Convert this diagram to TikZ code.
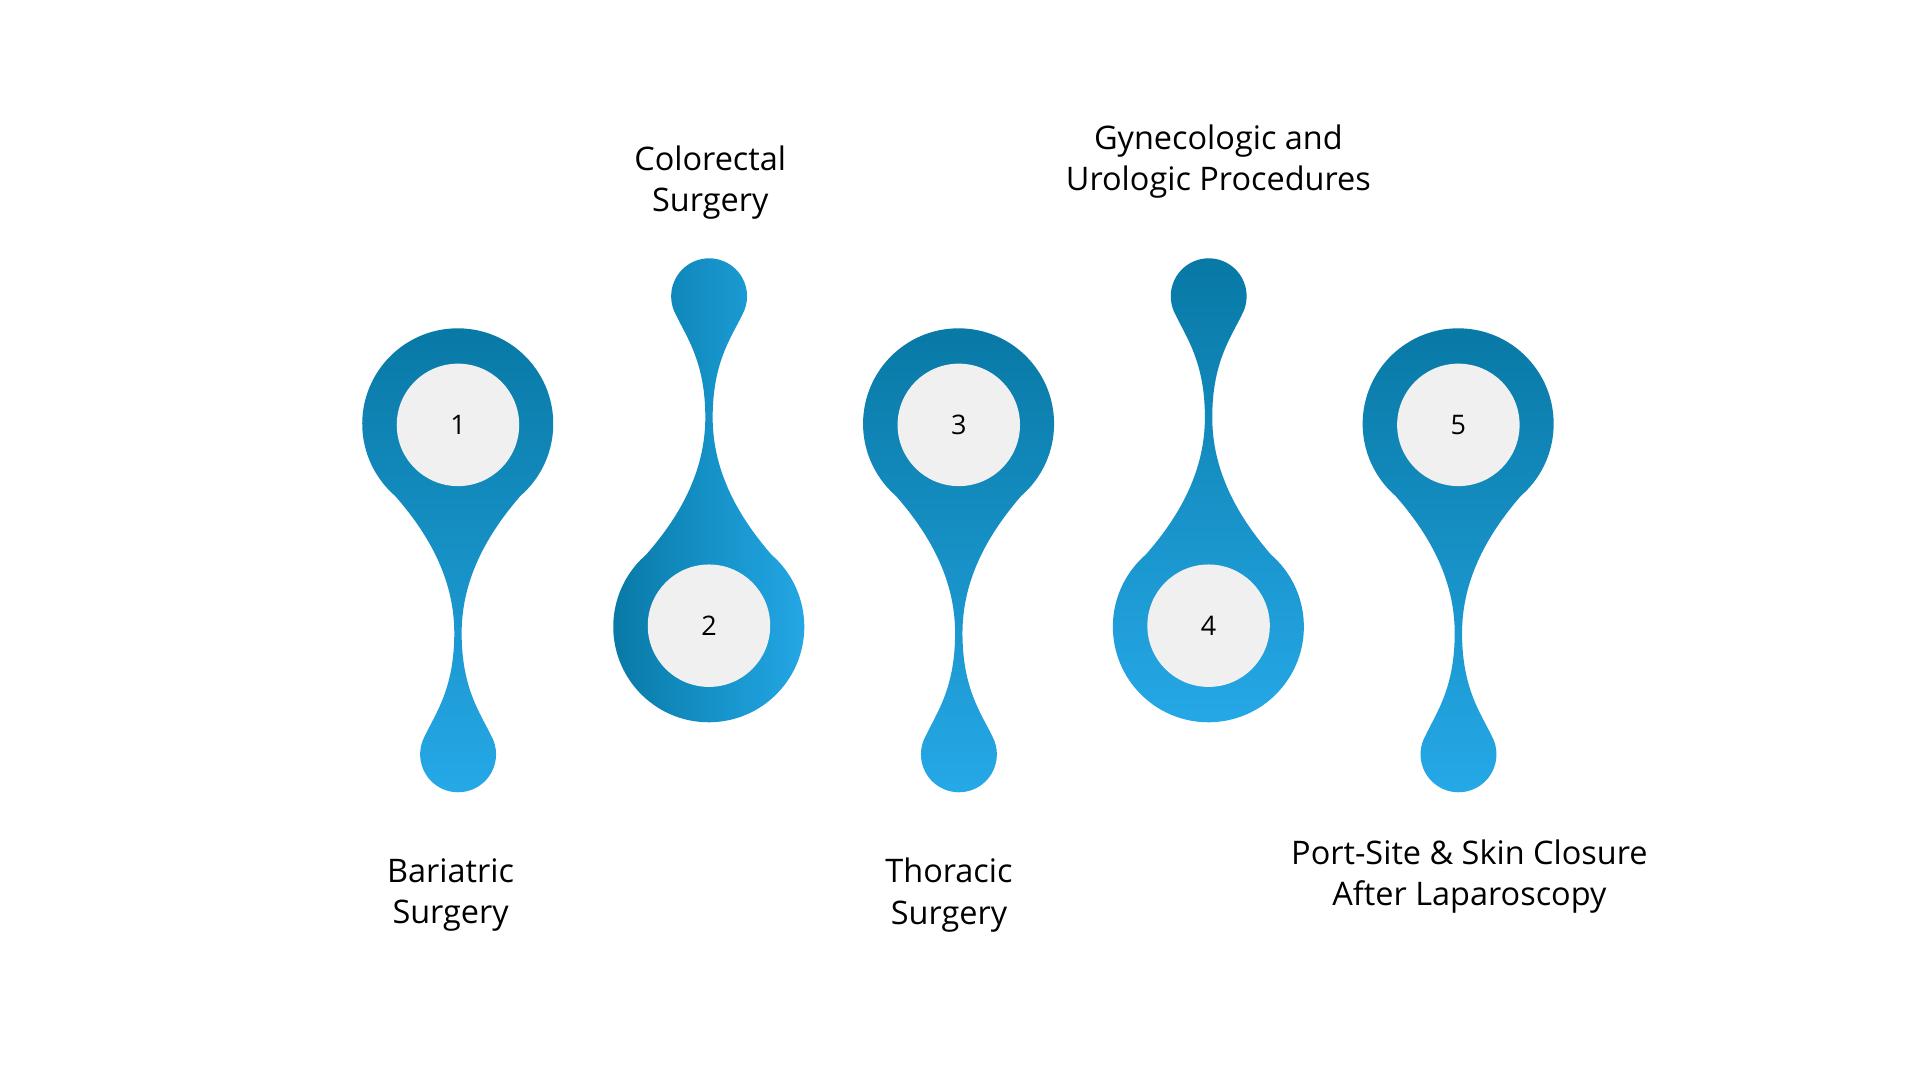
\documentclass[tikz,border=0pt]{standalone}
\usepackage{fontspec}
\setmainfont{Open Sans}
\definecolor{dk}{HTML}{0878A4}
\definecolor{md}{HTML}{1592C8}
\definecolor{lt}{HTML}{26A9E8}
\definecolor{inner}{HTML}{F0F0F0}
\begin{document}
\begin{tikzpicture}[x=1pt,y=1pt,
  lbl/.style={align=center,font=\fontsize{26.5}{34}\selectfont,text=black},
  num/.style={circle,fill=inner,minimum size=100pt,inner sep=0pt,font=\fontsize{22}{24}\selectfont},
  pin/.pic={
    \path[pic actions] (51,0) arc[start angle=-49,end angle=229,radius=78]
      .. controls (-25,-30) and (-3,-67) .. (-3,-112)
      .. controls (-3,-157) and (-18,-177) .. (-27,-196)
      arc[start angle=151,end angle=389,radius=31]
      .. controls (18,-177) and (3,-157) .. (3,-112)
      .. controls (3,-67) and (25,-30) .. cycle;
  }]
\useasboundingbox (0,0) rectangle (1568,882);
\fill[white] (0,0) rectangle (1568,882);
% shapes (big circle centre at pic origin + (0,58))
\pic[top color=dk,bottom color=lt] at (374,477) {pin};
\pic[yscale=-1,left color=dk,right color=lt,middle color=md] at (579,429) {pin};
\pic[top color=dk,bottom color=lt] at (783,477) {pin};
\pic[yscale=-1,top color=dk,bottom color=lt] at (987,429) {pin};
\pic[top color=dk,bottom color=lt] at (1191,477) {pin};
% inner circles
\node[num] (n1) at (374,535) {1};
\node[num] (n2) at (579,371) {2};
\node[num] (n3) at (783,535) {3};
\node[num] (n4) at (987,371) {4};
\node[num] (n5) at (1191,535) {5};
% labels
\node[lbl] (l1) at (368,151) {Bariatric\\Surgery};
\node[lbl] (l2) at (580,733) {Colorectal\\Surgery};
\node[lbl] (l3) at (775,151) {Thoracic\\Surgery};
\node[lbl] (l4) at (995,750) {Gynecologic and\\Urologic Procedures};
\node[lbl] (l5) at (1200,166) {Port-Site \& Skin Closure\\After Laparoscopy};
\end{tikzpicture}
\end{document}
